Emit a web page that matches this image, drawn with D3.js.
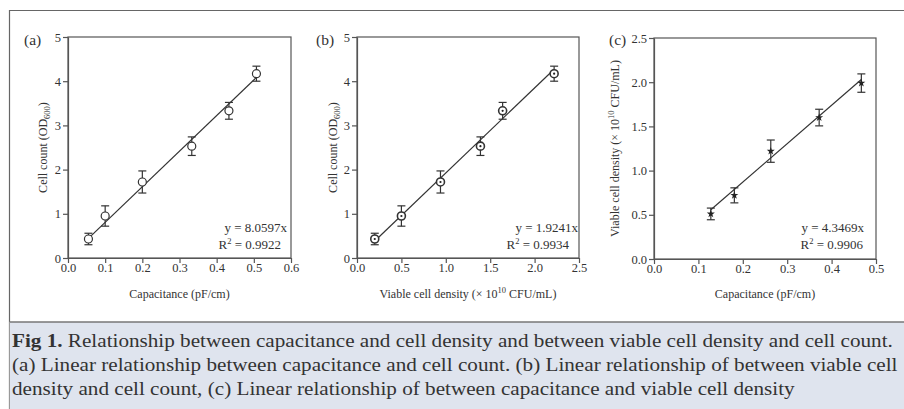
<!DOCTYPE html>
<html>
<head>
<meta charset="utf-8">
<script src="https://cdn.jsdelivr.net/npm/d3@7"></script>
<style>
  body { margin: 0; background: #fff; }
  svg { display: block; }
  text { font-family: "Liberation Serif", "Times New Roman", serif; fill: #333; }
</style>
</head>
<body>
<div id="chart"></div>
<script>
// values
var capA = [0.055, 0.10, 0.20, 0.333, 0.433, 0.507];       // capacitance (pF/cm), panel a
var viableB = [0.20, 0.50, 0.94, 1.39, 1.64, 2.22];         // viable cell density, panel b
var odCount = [0.43, 0.95, 1.72, 2.53, 3.33, 4.17];         // cell count OD600, panels a and b
var odErr = [0.13, 0.23, 0.25, 0.21, 0.19, 0.17];
var capC = [0.128, 0.181, 0.263, 0.372, 0.467];             // capacitance, panel c
var viableC = [0.51, 0.72, 1.22, 1.60, 1.99];               // viable cell density, panel c
var viableErr = [0.066, 0.085, 0.126, 0.094, 0.104];
var slopes = ["8.0597", "1.9241", "4.3469"];
var rSquared = ["0.9922", "0.9934", "0.9906"];
var panelLabels = ["(a)", "(b)", "(c)"];
var ticksA = [0, 0.1, 0.2, 0.3, 0.4, 0.5, 0.6];
var ticksB = [0, 0.5, 1.0, 1.5, 2.0, 2.5];
var ticksC = [0, 0.1, 0.2, 0.3, 0.4, 0.5];
var ticksOD = [0, 1, 2, 3, 4, 5];
var ticksViable = [0, 0.5, 1.0, 1.5, 2.0, 2.5];
var captionLines = [
  ["Fig 1.", " Relationship between capacitance and cell density and between viable cell density and cell count."],
  ["", "(a) Linear relationship between capacitance and cell count. (b) Linear relationship of between viable cell"],
  ["", "density and cell count, (c) Linear relationship of between capacitance and viable cell density"]
];

var W = 904, H = 409;
var svg = d3.select("#chart").append("svg").attr("width", W).attr("height", H);
svg.append("rect").attr("width", W).attr("height", H).attr("fill", "#fff");

// outer figure frame
svg.append("line").attr("x1", 9).attr("x2", W).attr("y1", 10.5).attr("y2", 10.5)
  .attr("stroke", "#666").attr("stroke-width", 1.2);
svg.append("line").attr("x1", 9.5).attr("x2", 9.5).attr("y1", 10).attr("y2", H)
  .attr("stroke", "#666").attr("stroke-width", 1.2);

var panels = [
  { x: capA, y: odCount, err: odErr, left: 68, right: 291, top: 37, bottom: 258,
    xd: [0, 0.6], yd: [0, 5], xt: ticksA, yt: ticksOD, xf: d3.format(".1f"), yf: d3.format("d"),
    marker: "open", labelX: 24, ytitleX: 47, xtitle: "cap", ytitle: "od", eqEnd: [287, 281] },
  { x: viableB, y: odCount, err: odErr, left: 357, right: 579, top: 37, bottom: 258,
    xd: [0, 2.5], yd: [0, 5], xt: ticksB, yt: ticksOD, xf: d3.format(".1f"), yf: d3.format("d"),
    marker: "dot", labelX: 316, ytitleX: 337, xtitle: "viable", ytitle: "od", eqEnd: [578, 569] },
  { x: capC, y: viableC, err: viableErr, left: 654, right: 876, top: 38, bottom: 259,
    xd: [0, 0.5], yd: [0, 2.5], xt: ticksC, yt: ticksViable, xf: d3.format(".1f"), yf: d3.format(".1f"),
    marker: "star", labelX: 609, ytitleX: 619, xtitle: "cap", ytitle: "viable", eqEnd: [864, 863] }
];

function addTitle(sel, kind) {
  if (kind === "cap") {
    sel.text("Capacitance (pF/cm)");
  } else if (kind === "od") {
    sel.append("tspan").text("Cell count (OD");
    sel.append("tspan").attr("font-size", "8.5px").attr("dy", 3).text("600");
    sel.append("tspan").attr("dy", -3).text(")");
  } else {
    sel.append("tspan").text("Viable cell density (\u00d7 10");
    sel.append("tspan").attr("font-size", "8.5px").attr("dy", -5).text("10");
    sel.append("tspan").attr("dy", 5).text(" CFU/mL)");
  }
}

panels.forEach(function (p, i) {
  var x = d3.scaleLinear().domain(p.xd).range([p.left, p.right]);
  var y = d3.scaleLinear().domain(p.yd).range([p.bottom, p.top]);
  var g = svg.append("g");

  // plot frame
  g.append("rect").attr("x", p.left).attr("y", p.top)
    .attr("width", p.right - p.left).attr("height", p.bottom - p.top)
    .attr("fill", "none").attr("stroke", "#555").attr("stroke-width", 1.2);

  var xAxis = g.append("g").attr("transform", "translate(0," + p.bottom + ")")
    .call(d3.axisBottom(x).tickValues(p.xt).tickFormat(p.xf).tickSize(5).tickSizeOuter(0));
  xAxis.selectAll("text").attr("y", 5).attr("dy", "0.71em")
    .style("font-size", "12.5px").style("font-family", "Liberation Serif").attr("fill", "#333");
  var yAxis = g.append("g").attr("transform", "translate(" + p.left + ",0)")
    .call(d3.axisLeft(y).tickValues(p.yt).tickFormat(p.yf).tickSize(5).tickPadding(2).tickSizeOuter(0));
  yAxis.selectAll("text")
    .style("font-size", "12.5px").style("font-family", "Liberation Serif").attr("fill", "#333");
  g.selectAll(".domain, .tick line").attr("stroke", "#555").attr("stroke-width", 1.2);

  // axis titles
  var xt = g.append("text").attr("x", (p.left + p.right) / 2).attr("y", 298)
    .attr("text-anchor", "middle").style("font-size", "12px");
  addTitle(xt, p.xtitle);
  var yt = g.append("text").attr("transform", "translate(" + p.ytitleX + "," + (p.top + p.bottom) / 2 + ") rotate(-90)")
    .attr("text-anchor", "middle").style("font-size", "12px");
  addTitle(yt, p.ytitle);

  // panel label
  g.append("text").attr("x", p.labelX).attr("y", 45).style("font-size", "15.5px").text(panelLabels[i]);

  // fit line y = slope * x across the data range
  var pts = p.x.map(function (v, j) { return { x: v, y: p.y[j], e: p.err[j] }; });
  var xmin = d3.min(p.x), xmax = d3.max(p.x), k = +slopes[i];
  g.append("line")
    .attr("x1", x(xmin)).attr("y1", y(k * xmin))
    .attr("x2", x(xmax)).attr("y2", y(k * xmax))
    .attr("stroke", "#333").attr("stroke-width", 1.2);

  // error bars
  var eb = g.selectAll(".eb").data(pts).enter().append("g").attr("stroke", "#333").attr("stroke-width", 1.2);
  eb.append("line").attr("x1", function (d) { return x(d.x); }).attr("x2", function (d) { return x(d.x); })
    .attr("y1", function (d) { return y(d.y - d.e); }).attr("y2", function (d) { return y(d.y + d.e); });
  [-1, 1].forEach(function (s) {
    eb.append("line").attr("x1", function (d) { return x(d.x) - 4; }).attr("x2", function (d) { return x(d.x) + 4; })
      .attr("y1", function (d) { return y(d.y + s * d.e); }).attr("y2", function (d) { return y(d.y + s * d.e); });
  });

  // markers
  if (p.marker === "open" || p.marker === "dot") {
    g.selectAll(".mk").data(pts).enter().append("circle")
      .attr("cx", function (d) { return x(d.x); }).attr("cy", function (d) { return y(d.y); })
      .attr("r", 4).attr("fill", "#fff").attr("stroke", "#333").attr("stroke-width", p.marker === "dot" ? 1.6 : 1.2);
    if (p.marker === "dot") {
      g.selectAll(".ct").data(pts).enter().append("circle")
        .attr("cx", function (d) { return x(d.x); }).attr("cy", function (d) { return y(d.y); })
        .attr("r", 1.1).attr("fill", "#222");
    }
  } else {
    g.selectAll(".mk").data(pts).enter().append("path")
      .attr("d", d3.symbol().type(d3.symbolStar).size(20))
      .attr("transform", function (d) { return "translate(" + x(d.x) + "," + y(d.y) + ")"; })
      .attr("fill", "#222");
  }

  // equation and R^2
  g.append("text").attr("x", p.eqEnd[0]).attr("y", 232).attr("text-anchor", "end")
    .style("font-size", "13px").text("y = " + slopes[i] + "x");
  var r = g.append("text").attr("x", p.eqEnd[1]).attr("y", 249).attr("text-anchor", "end").style("font-size", "13px");
  r.append("tspan").text("R");
  r.append("tspan").attr("font-size", "8.5px").attr("dy", -5).text("2");
  r.append("tspan").attr("dy", 5).text(" = " + rSquared[i]);
});

// caption box
svg.append("rect").attr("x", 9).attr("y", 322).attr("width", W - 9).attr("height", H - 322).attr("fill", "#dfe4ee");
svg.append("line").attr("x1", 9).attr("x2", W).attr("y1", 322).attr("y2", 322).attr("stroke", "#777").attr("stroke-width", 1.5);
svg.append("line").attr("x1", 9.5).attr("x2", 9.5).attr("y1", 322).attr("y2", H).attr("stroke", "#999").attr("stroke-width", 1);

var cap = svg.append("g").attr("class", "caption");
var capTexts = captionLines.map(function (ln, i) {
  var t = cap.append("text").attr("x", 0).attr("y", 347 + i * 24).style("font-size", "19.5px").attr("fill", "#222");
  if (ln[0]) t.append("tspan").attr("font-weight", "bold").text(ln[0]);
  t.append("tspan").text(ln[1]);
  return t;
});
// squeeze the caption horizontally so the lines run out to the right edge like the original
var len3 = capTexts[2].node().getComputedTextLength();
var sx = (795 - 12) / len3;
cap.attr("transform", "translate(12,0) scale(" + sx + ",1)");
</script>
</body>
</html>
